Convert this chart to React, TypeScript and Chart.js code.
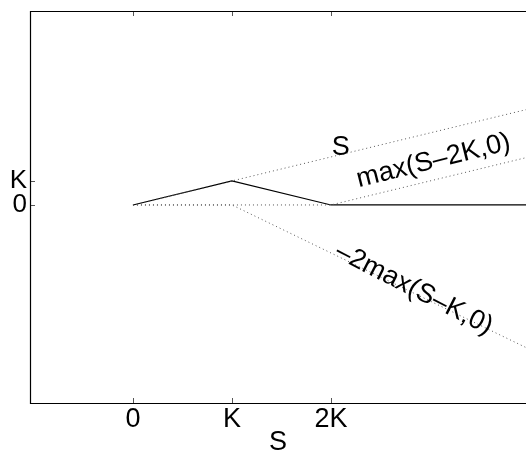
import React, { useEffect, useRef } from "react";
import { Chart, registerables } from "chart.js";

Chart.register(...registerables);

// Data (K = 1)
const xMin = -1.04;
const xMax = 3.97;
const yMin = -8.25;
const yMax = 8.08;

const payoffX = [0, 1, 2, 3.97];
const payoffY = [0, 1, 0, 0];

const sX = [0, 3.97];
const sY = [0, 3.97];

const callHighX = [0, 2, 3.97];
const callHighY = [0, 0, 1.97];

const shortCallX = [0, 1, 3.97];
const shortCallY = [0, 0, -5.94];

const xTickValues = [0, 1, 2];
const xTickLabels = ["0", "K", "2K"];
const yTickValues = [0, 1];
const yTickLabels = ["0", "K"];

const annotations = [
  { text: "S", x: 2.1, y: 2.5, angle: 0 },
  { text: "max(S\u20132K,0)", x: 3.03, y: 1.92, angle: -14 },
  { text: "\u20132max(S\u2013K,0)", x: 2.85, y: -3.42, angle: 27 },
];

const FONT = "'Liberation Sans', Arial, Helvetica, sans-serif";
const FS = 27;

const pts = (xs: number[], ys: number[]) => xs.map((x, i) => ({ x, y: ys[i] }));

const framePlugin = {
  id: "frame",
  afterDraw(chart: any) {
    const ctx = chart.ctx as CanvasRenderingContext2D;
    const { left, right, top, bottom } = chart.chartArea;
    const xs = chart.scales.x;
    const ys = chart.scales.y;
    ctx.save();
    // ticks
    ctx.strokeStyle = "#555";
    ctx.lineWidth = 1;
    ctx.beginPath();
    xTickValues.forEach((v) => {
      const px = Math.round(xs.getPixelForValue(v)) + 0.5;
      ctx.moveTo(px, bottom);
      ctx.lineTo(px, bottom - 5);
      ctx.moveTo(px, top);
      ctx.lineTo(px, top + 5);
    });
    yTickValues.forEach((v) => {
      const py = Math.round(ys.getPixelForValue(v)) + 0.5;
      ctx.moveTo(left, py);
      ctx.lineTo(left + 5, py);
    });
    ctx.stroke();
    // frame (left, top, bottom)
    ctx.strokeStyle = "#000";
    ctx.lineWidth = 1.2;
    ctx.beginPath();
    ctx.moveTo(right, Math.round(top) + 0.5);
    ctx.lineTo(Math.round(left) + 0.5, Math.round(top) + 0.5);
    ctx.lineTo(Math.round(left) + 0.5, Math.round(bottom) + 0.5);
    ctx.lineTo(right, Math.round(bottom) + 0.5);
    ctx.stroke();
    // annotations
    ctx.fillStyle = "#000";
    ctx.font = `${FS}px ${FONT}`;
    ctx.textAlign = "center";
    ctx.textBaseline = "alphabetic";
    const capHalf = (FS * 0.716) / 2;
    annotations.forEach((a) => {
      const px = xs.getPixelForValue(a.x);
      const py = ys.getPixelForValue(a.y);
      ctx.save();
      ctx.translate(px, py);
      ctx.rotate((a.angle * Math.PI) / 180);
      ctx.fillText(a.text, 0, capHalf);
      ctx.restore();
    });
    ctx.restore();
  },
};

export default function App() {
  const ref = useRef<HTMLCanvasElement | null>(null);
  useEffect(() => {
    document.body.style.margin = "0";
    const canvas = ref.current!;
    const dotted = {
      borderColor: "#555",
      borderWidth: 1,
      borderDash: [1, 3],
      pointRadius: 0,
      fill: false,
      tension: 0,
    };
    const chart = new Chart(canvas, {
      type: "line",
      data: {
        datasets: [
          { label: "S", data: pts(sX, sY), ...dotted },
          { label: "max(S-2K,0)", data: pts(callHighX, callHighY), ...dotted },
          { label: "-2max(S-K,0)", data: pts(shortCallX, shortCallY), ...dotted },
          {
            label: "payoff",
            data: pts(payoffX, payoffY),
            borderColor: "#000",
            borderWidth: 1.2,
            pointRadius: 0,
            fill: false,
            tension: 0,
          },
        ],
      },
      options: {
        responsive: false,
        animation: false,
        devicePixelRatio: 1,
        layout: { padding: { top: 11, right: 0, left: 0, bottom: 0 } },
        plugins: { legend: { display: false }, tooltip: { enabled: false } },
        scales: {
          x: {
            type: "linear",
            min: xMin,
            max: xMax,
            grid: { display: false, drawTicks: false },
            border: { display: false },
            afterBuildTicks: (s: any) => {
              s.ticks = xTickValues.map((v) => ({ value: v }));
            },
            afterFit: (s: any) => {
              s.height = 49;
              s.paddingLeft = 0;
              s.paddingRight = 0;
            },
            ticks: {
              autoSkip: false,
              maxRotation: 0,
              padding: 0,
              color: "#000",
              font: { family: FONT, size: FS },
              callback: (v: any) => {
                const i = xTickValues.indexOf(Number(v));
                return i >= 0 ? xTickLabels[i] : "";
              },
            },
            title: {
              display: true,
              text: "S",
              color: "#000",
              font: { family: FONT, size: FS },
              padding: { top: 0, bottom: -7 },
            },
          },
          y: {
            type: "linear",
            min: yMin,
            max: yMax,
            grid: { display: false, drawTicks: false },
            border: { display: false },
            afterBuildTicks: (s: any) => {
              s.ticks = yTickValues.map((v) => ({ value: v }));
            },
            afterFit: (s: any) => {
              s.width = 30;
              s.paddingTop = 0;
              s.paddingBottom = 0;
            },
            ticks: {
              autoSkip: false,
              padding: 3,
              color: "#000",
              font: { family: FONT, size: 26 },
              callback: (v: any) => {
                const i = yTickValues.indexOf(Number(v));
                return i >= 0 ? yTickLabels[i] : "";
              },
            },
          },
        },
      },
      plugins: [framePlugin],
    } as any);
    return () => chart.destroy();
  }, []);
  return <canvas ref={ref} width={526} height={452} style={{ display: "block", width: 526, height: 452 }} />;
}
